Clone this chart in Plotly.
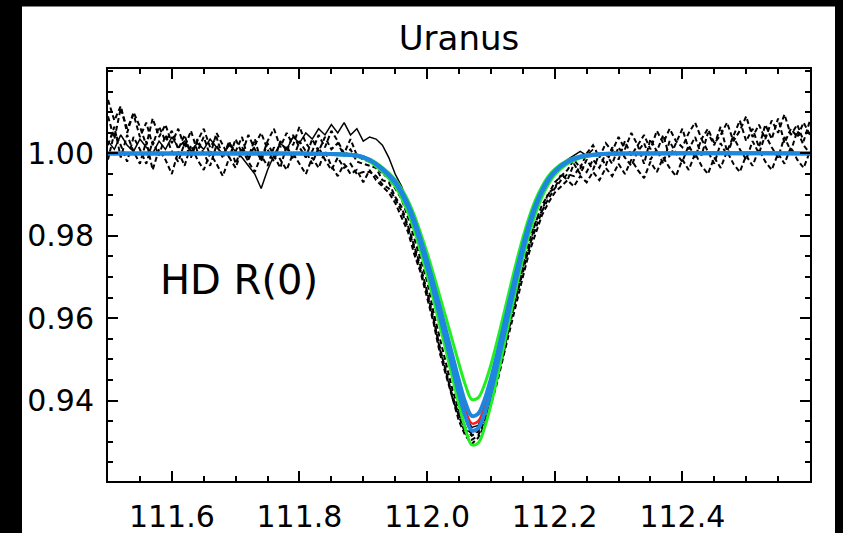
import plotly.graph_objects as go

# ---------------- data ----------------
wave = [111.50, 111.51, 111.52, 111.53, 111.54, 111.55, 111.56, 111.57, 111.58, 111.59,
        111.60, 111.61, 111.62, 111.63, 111.64, 111.65, 111.66, 111.67, 111.68, 111.69,
        111.70, 111.71, 111.72, 111.73, 111.74, 111.75, 111.76, 111.77, 111.78, 111.79,
        111.80, 111.81, 111.82, 111.83, 111.84, 111.85, 111.86, 111.87, 111.88, 111.89,
        111.90, 111.91, 111.92, 111.93, 111.94, 111.95, 111.96, 111.97, 111.98, 111.99,
        112.00, 112.01, 112.02, 112.03, 112.04, 112.05, 112.06, 112.07, 112.08, 112.09,
        112.10, 112.11, 112.12, 112.13, 112.14, 112.15, 112.16, 112.17, 112.18, 112.19,
        112.20, 112.21, 112.22, 112.23, 112.24, 112.25, 112.26, 112.27, 112.28, 112.29,
        112.30, 112.31, 112.32, 112.33, 112.34, 112.35, 112.36, 112.37, 112.38, 112.39,
        112.40, 112.41, 112.42, 112.43, 112.44, 112.45, 112.46, 112.47, 112.48, 112.49,
        112.50, 112.51, 112.52, 112.53, 112.54, 112.55, 112.56, 112.57, 112.58, 112.59,
        112.60]

obs_a = [1.0090, 1.0035, 1.0110, 1.0060, 1.0095, 1.0040, 1.0075, 1.0020, 1.0065, 1.0030,
         1.0055, 1.0010, 1.0045, 0.9995, 1.0030, 1.0060, 1.0015, 1.0040, 0.9990, 1.0025,
         1.0005, 1.0040, 0.9985, 1.0020, 1.0050, 1.0010, 0.9980, 1.0030, 1.0005, 1.0045,
         1.0015, 0.9990, 1.0035, 1.0005, 1.0040, 1.0010, 1.0025, 0.9995, 1.0010, 0.9980,
         0.9975, 0.9970, 0.9965, 0.9935, 0.9930, 0.9895, 0.9870, 0.9825, 0.9775, 0.9725,
         0.9665, 0.9600, 0.9525, 0.9470, 0.9405, 0.9360, 0.9320, 0.9305, 0.9315, 0.9350,
         0.9395, 0.9465, 0.9515, 0.9595, 0.9650, 0.9725, 0.9770, 0.9835, 0.9860, 0.9905,
         0.9915, 0.9950, 0.9935, 0.9975, 0.9950, 0.9985, 0.9960, 1.0000, 0.9970, 1.0015,
         0.9985, 1.0030, 0.9995, 1.0020, 0.9975, 1.0035, 1.0005, 1.0045, 0.9990, 1.0025,
         1.0060, 1.0010, 1.0040, 0.9995, 1.0050, 1.0020, 1.0065, 1.0005, 1.0045, 1.0080,
         1.0030, 1.0060, 1.0015, 1.0070, 1.0035, 1.0085, 1.0025, 1.0060, 1.0040, 1.0075,
         1.0045]

obs_b = [1.0020, 1.0065, 0.9990, 1.0045, 1.0005, 0.9975, 1.0030, 0.9960, 1.0010, 0.9985,
         0.9950, 1.0005, 0.9970, 1.0020, 0.9985, 0.9960, 1.0000, 0.9975, 0.9945, 0.9990,
         0.9965, 1.0010, 0.9980, 0.9955, 0.9995, 0.9970, 1.0015, 0.9985, 0.9960, 1.0000,
         0.9975, 0.9950, 0.9990, 0.9965, 1.0005, 0.9970, 0.9945, 0.9975, 0.9950, 0.9960,
         0.9930, 0.9960, 0.9935, 0.9920, 0.9905, 0.9880, 0.9845, 0.9810, 0.9755, 0.9710,
         0.9650, 0.9590, 0.9515, 0.9460, 0.9400, 0.9350, 0.9315, 0.9295, 0.9310, 0.9340,
         0.9390, 0.9445, 0.9510, 0.9575, 0.9640, 0.9700, 0.9760, 0.9805, 0.9850, 0.9880,
         0.9905, 0.9920, 0.9935, 0.9920, 0.9945, 0.9930, 0.9955, 0.9935, 0.9965, 0.9945,
         0.9975, 0.9950, 0.9985, 0.9960, 0.9940, 0.9980, 0.9955, 0.9990, 0.9965, 0.9945,
         0.9985, 0.9960, 1.0000, 0.9970, 0.9950, 0.9990, 0.9965, 1.0005, 0.9975, 0.9955,
         0.9995, 0.9970, 1.0010, 0.9980, 0.9960, 1.0000, 0.9975, 1.0015, 0.9985, 0.9965,
         1.0005]

obs_c = [1.0130, 1.0080, 1.0115, 1.0050, 1.0100, 1.0065, 1.0020, 1.0085, 1.0040, 1.0070,
         1.0025, 1.0060, 1.0015, 1.0055, 1.0005, 1.0040, 0.9995, 1.0050, 1.0020, 0.9990,
         1.0035, 1.0000, 1.0045, 1.0010, 0.9985, 1.0030, 1.0060, 1.0015, 1.0050, 1.0020,
         1.0065, 1.0025, 1.0005, 1.0045, 1.0015, 1.0055, 1.0030, 1.0000, 1.0035, 0.9995,
         0.9985, 0.9980, 0.9970, 0.9950, 0.9940, 0.9915, 0.9890, 0.9845, 0.9795, 0.9740,
         0.9690, 0.9615, 0.9550, 0.9485, 0.9425, 0.9375, 0.9335, 0.9320, 0.9330, 0.9365,
         0.9410, 0.9470, 0.9535, 0.9600, 0.9670, 0.9730, 0.9790, 0.9830, 0.9875, 0.9900,
         0.9930, 0.9945, 0.9960, 0.9985, 0.9965, 1.0000, 1.0020, 0.9990, 1.0025, 1.0005,
         1.0040, 1.0010, 1.0050, 1.0020, 1.0045, 1.0010, 1.0055, 1.0025, 1.0060, 1.0030,
         1.0015, 1.0050, 1.0075, 1.0035, 1.0060, 1.0025, 1.0045, 1.0075, 1.0030, 1.0055,
         1.0090, 1.0040, 1.0070, 1.0035, 1.0080, 1.0050, 1.0095, 1.0045, 1.0070, 1.0030,
         1.0080]

obs_d = [0.9985, 1.0050, 1.0020, 0.9980, 1.0040, 1.0010, 0.9975, 1.0030, 0.9995, 1.0045,
         1.0005, 0.9980, 1.0025, 0.9990, 1.0035, 1.0000, 0.9970, 1.0020, 0.9990, 1.0030,
         0.9975, 1.0015, 0.9990, 1.0035, 0.9980, 1.0025, 0.9995, 0.9965, 1.0020, 0.9985,
         1.0030, 1.0005, 0.9975, 1.0015, 0.9985, 0.9960, 0.9990, 0.9965, 0.9975, 0.9950,
         0.9955, 0.9955, 0.9945, 0.9925, 0.9915, 0.9890, 0.9860, 0.9820, 0.9770, 0.9715,
         0.9660, 0.9595, 0.9530, 0.9465, 0.9410, 0.9365, 0.9330, 0.9315, 0.9325, 0.9355,
         0.9400, 0.9455, 0.9525, 0.9585, 0.9655, 0.9710, 0.9775, 0.9815, 0.9860, 0.9890,
         0.9915, 0.9935, 0.9950, 0.9945, 0.9970, 0.9955, 0.9985, 0.9965, 1.0000, 0.9975,
         1.0015, 0.9990, 0.9970, 1.0005, 1.0025, 0.9985, 1.0010, 0.9975, 1.0030, 1.0000,
         0.9980, 1.0020, 0.9990, 1.0035, 1.0005, 0.9975, 1.0025, 0.9995, 1.0040, 1.0010,
         0.9985, 1.0030, 1.0000, 1.0045, 1.0015, 0.9990, 1.0040, 1.0005, 1.0055, 1.0020,
         1.0000]

# solid spectrum covers 111.50 - 112.26 (first 77 wavelengths)
obs_solid = [1.0030, 1.0010, 1.0045, 1.0020, 1.0005, 1.0035, 1.0015, 1.0000, 1.0030, 1.0010,
             1.0040, 1.0015, 1.0030, 1.0005, 1.0025, 1.0010, 1.0035, 1.0015, 1.0000, 1.0020,
             1.0005, 0.9990, 0.9970, 0.9950, 0.9915, 0.9960, 0.9995, 1.0025, 1.0010, 1.0040,
             1.0025, 1.0050, 1.0035, 1.0060, 1.0045, 1.0070, 1.0050, 1.0075, 1.0045, 1.0060,
             1.0030, 1.0040, 1.0035, 1.0020, 0.9990, 0.9950, 0.9920, 0.9880, 0.9835, 0.9785,
             0.9730, 0.9670, 0.9610, 0.9545, 0.9480, 0.9415, 0.9365, 0.9335, 0.9340, 0.9375,
             0.9425, 0.9485, 0.9550, 0.9620, 0.9685, 0.9750, 0.9805, 0.9855, 0.9895, 0.9925,
             0.9950, 0.9970, 0.9985, 0.9995, 1.0005, 0.9995, 1.0010]

model_wave = [111.50, 111.80, 111.86, 111.89, 111.91, 111.93, 111.95, 111.96, 111.97, 111.98,
              111.99, 112.00, 112.01, 112.02, 112.03, 112.04, 112.05, 112.06, 112.07, 112.08,
              112.09, 112.10, 112.11, 112.12, 112.13, 112.14, 112.15, 112.16, 112.17, 112.18,
              112.19, 112.20, 112.22, 112.24, 112.27, 112.32, 112.60]

model_green_wide = [1.0000, 1.0000, 0.9997, 0.9993, 0.9980, 0.9955, 0.9920, 0.9892, 0.9857, 0.9813,
                    0.9761, 0.9705, 0.9645, 0.9582, 0.9519, 0.9454, 0.9390, 0.9332, 0.9293, 0.9297,
                    0.9334, 0.9390, 0.9457, 0.9530, 0.9604, 0.9676, 0.9744, 0.9804, 0.9854, 0.9894,
                    0.9925, 0.9948, 0.9975, 0.9989, 0.9997, 1.0000, 1.0000]

model_green_narrow = [1.0000, 1.0000, 0.9999, 0.9996, 0.9986, 0.9966, 0.9937, 0.9914, 0.9886, 0.9850,
                      0.9806, 0.9759, 0.9707, 0.9653, 0.9599, 0.9544, 0.9489, 0.9438, 0.9403, 0.9407,
                      0.9439, 0.9487, 0.9546, 0.9609, 0.9674, 0.9737, 0.9795, 0.9846, 0.9888, 0.9920,
                      0.9945, 0.9962, 0.9983, 0.9993, 0.9998, 1.0000, 1.0000]

model_red = [1.0000, 1.0000, 0.9998, 0.9995, 0.9984, 0.9962, 0.9930, 0.9905, 0.9873, 0.9833,
             0.9785, 0.9732, 0.9675, 0.9615, 0.9555, 0.9493, 0.9432, 0.9378, 0.9345, 0.9350,
             0.9385, 0.9437, 0.9500, 0.9568, 0.9638, 0.9706, 0.9770, 0.9826, 0.9872, 0.9908,
             0.9936, 0.9956, 0.9980, 0.9992, 0.9998, 1.0000, 1.0000]

model_blue_shallow = [1.0000, 1.0000, 0.9998, 0.9995, 0.9984, 0.9963, 0.9932, 0.9908, 0.9877, 0.9838,
                      0.9791, 0.9740, 0.9684, 0.9626, 0.9567, 0.9507, 0.9448, 0.9395, 0.9363, 0.9368,
                      0.9402, 0.9453, 0.9514, 0.9580, 0.9648, 0.9714, 0.9776, 0.9831, 0.9876, 0.9911,
                      0.9938, 0.9957, 0.9981, 0.9992, 0.9998, 1.0000, 1.0000]

model_blue_deep = [1.0000, 1.0000, 0.9998, 0.9995, 0.9984, 0.9961, 0.9928, 0.9903, 0.9870, 0.9829,
                   0.9779, 0.9725, 0.9667, 0.9605, 0.9543, 0.9480, 0.9417, 0.9362, 0.9328, 0.9333,
                   0.9369, 0.9422, 0.9487, 0.9557, 0.9629, 0.9698, 0.9764, 0.9821, 0.9869, 0.9906,
                   0.9934, 0.9955, 0.9979, 0.9992, 0.9998, 1.0000, 1.0000]

x_ticks = [111.6, 111.8, 112.0, 112.2, 112.4]
y_ticks = [0.94, 0.96, 0.98, 1.00]
title_text = "Uranus"
label_text = "HD R(0)"

# ---------------- figure ----------------
BLUE = "#1f86e0"
GREEN = "#22ee22"
RED = "#ff1a1a"

fig = go.Figure()

for ys in [obs_a, obs_b, obs_c, obs_d]:
    fig.add_trace(go.Scatter(x=wave, y=ys, mode="lines",
                             line=dict(color="black", width=2, dash="5px,3px"),
                             hoverinfo="skip"))
fig.add_trace(go.Scatter(x=wave[:len(obs_solid)], y=obs_solid, mode="lines",
                         line=dict(color="black", width=1.5), hoverinfo="skip"))

fig.add_trace(go.Scatter(x=model_wave, y=model_green_wide, mode="lines",
                         line=dict(color=GREEN, width=3, shape="spline")))
fig.add_trace(go.Scatter(x=model_wave, y=model_green_narrow, mode="lines",
                         line=dict(color=GREEN, width=3, shape="spline")))
fig.add_trace(go.Scatter(x=model_wave, y=model_red, mode="lines",
                         line=dict(color=RED, width=2.5, shape="spline")))
fig.add_trace(go.Scatter(x=model_wave, y=model_blue_shallow, mode="lines",
                         line=dict(color=BLUE, width=4, shape="spline")))
fig.add_trace(go.Scatter(x=model_wave, y=model_blue_deep, mode="lines",
                         line=dict(color=BLUE, width=4, shape="spline")))

# The captured page is ~546 px tall and squeezed to 533, so lay out at 546 px.
W, H = 843, 546
K = H / 533.0
L, R = 108, 33
T = 67 * K
B = H - 482 * K
pw, ph = W - L - R, H - T - B

def px_x(p):
    return (p - L) / pw

def px_y(p):
    return (H - B - p * K) / ph

fig.add_shape(type="rect", xref="paper", yref="paper",
              x0=px_x(22), x1=px_x(835), y0=px_y(560), y1=px_y(4),
              fillcolor="white", line=dict(width=0), layer="below")

axis_common = dict(showgrid=False, zeroline=False, showline=True, linecolor="black",
                   linewidth=2, mirror="ticks", ticks="inside", ticklen=10, tickwidth=2,
                   tickcolor="black",
                   tickfont=dict(family="DejaVu Sans", size=30, color="black"))

fig.update_xaxes(range=[111.5, 112.6], tickvals=x_ticks,
                 ticktext=[f"{v:.1f}" for v in x_ticks],
                 minor=dict(dtick=0.05, tick0=111.5, ticks="inside", ticklen=5,
                            tickwidth=2, tickcolor="black"),
                 ticklabelstandoff=8, **axis_common)
fig.update_yaxes(range=[0.9205, 1.0205], tickvals=y_ticks,
                 ticktext=[f"{v:.2f}" for v in y_ticks],
                 minor=dict(dtick=0.005, tick0=0.92, ticks="inside", ticklen=5,
                            tickwidth=2, tickcolor="black"),
                 ticklabelstandoff=6, **axis_common)

fig.add_annotation(text=label_text, xref="paper", yref="paper",
                   x=px_x(158), y=px_y(280), xanchor="left", yanchor="middle",
                   showarrow=False,
                   font=dict(family="DejaVu Sans", size=40, color="black"))

fig.update_layout(
    width=W, height=H,
    margin=dict(l=L, r=R, t=T, b=B, pad=0),
    paper_bgcolor="black", plot_bgcolor="white",
    showlegend=False,
    title=dict(text=title_text, x=0.5 * (108 + 810) / W, xanchor="center",
               y=1 - 37.5 * K / H, yanchor="middle",
               font=dict(family="DejaVu Sans", size=34, color="black")),
)

page_fix = ("var d=document.getElementById('{plot_id}');"
            "d.style.position='fixed';d.style.left='0px';d.style.top='0px';"
            "document.body.style.margin='0px';"
            "document.documentElement.style.overflow='hidden';"
            "document.body.style.overflow='hidden';")

fig.write_html("out.html", config={"displayModeBar": False}, post_script=page_fix)
